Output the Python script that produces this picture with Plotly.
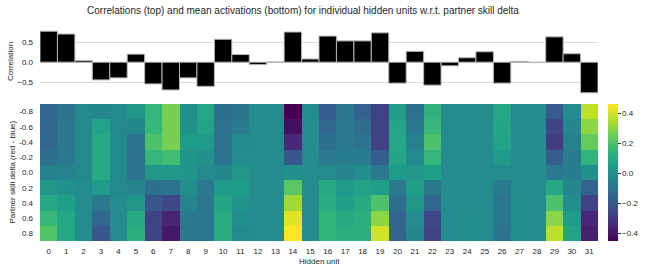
import numpy as np
import plotly.graph_objects as go

# ---------------- data ----------------
units = list(range(32))
unit_labels = [str(u) for u in units]

skill_deltas = [-0.8, -0.6, -0.4, -0.2, 0.0, 0.2, 0.4, 0.6, 0.8]
skill_labels = ["-0.8", "-0.6", "-0.4", "-0.2", "0.0", "0.2", "0.4", "0.6", "0.8"]

correlations = [0.77, 0.70, 0.04, -0.44, -0.39, 0.20, -0.54, -0.69, -0.39, -0.60,
                0.57, 0.19, -0.06, 0.005, 0.75, 0.08, 0.65, 0.53, 0.53, 0.73,
                -0.52, 0.27, -0.57, -0.09, 0.11, 0.26, -0.52, 0.02, -0.01, 0.63,
                0.21, -0.76]

# mean activation per hidden unit, one value per skill delta (-0.8 ... 0.8)
activations_by_unit = [
    [-0.15, -0.15, -0.15, -0.12, -0.05, 0.03, 0.09, 0.16, 0.21],   # 0
    [-0.10, -0.09, -0.09, -0.08, -0.04, 0.01, 0.06, 0.09, 0.09],   # 1
    [-0.02, -0.02, -0.02, -0.02, -0.02, -0.01, -0.01, -0.01, -0.01],  # 2
    [-0.03, 0.07, 0.10, 0.10, 0.10, 0.04, -0.08, -0.15, -0.20],    # 3
    [-0.02, -0.02, -0.02, -0.02, -0.02, -0.02, -0.01, -0.01, -0.01],  # 4
    [0.03, -0.03, -0.10, -0.11, -0.10, -0.04, 0.03, 0.10, 0.12],   # 5
    [0.15, 0.16, 0.20, 0.15, 0.03, -0.12, -0.20, -0.27, -0.27],    # 6
    [0.27, 0.27, 0.27, 0.18, 0.03, -0.10, -0.25, -0.36, -0.39],    # 7
    [0.00, 0.01, 0.05, 0.02, 0.02, 0.00, -0.04, -0.08, -0.09],     # 8
    [0.09, 0.07, 0.04, 0.01, -0.02, -0.08, -0.09, -0.09, -0.09],   # 9
    [-0.12, -0.11, -0.11, -0.10, -0.03, 0.05, 0.08, 0.11, 0.11],   # 10
    [-0.10, -0.07, -0.02, -0.01, 0.03, 0.05, 0.02, 0.00, -0.02],   # 11
    [-0.01, -0.01, -0.01, -0.01, -0.01, -0.01, -0.01, -0.01, -0.01],  # 12
    [-0.01, -0.01, -0.01, -0.01, -0.01, -0.01, -0.01, -0.01, -0.01],  # 13
    [-0.45, -0.41, -0.35, -0.20, 0.01, 0.22, 0.33, 0.42, 0.46],    # 14
    [-0.01, -0.01, -0.01, -0.01, -0.01, -0.01, -0.01, -0.01, -0.01],  # 15
    [-0.18, -0.15, -0.12, -0.08, -0.01, 0.10, 0.11, 0.14, 0.14],   # 16
    [-0.09, -0.08, -0.08, -0.06, -0.04, 0.04, 0.06, 0.10, 0.12],   # 17
    [-0.17, -0.13, -0.10, -0.07, 0.00, 0.07, 0.10, 0.12, 0.12],    # 18
    [-0.27, -0.27, -0.27, -0.18, -0.08, 0.06, 0.20, 0.30, 0.40],   # 19
    [0.06, 0.08, 0.09, 0.08, 0.05, -0.08, -0.12, -0.16, -0.16],    # 20
    [-0.12, -0.09, -0.05, -0.02, 0.03, 0.06, 0.03, -0.01, -0.03],  # 21
    [0.13, 0.16, 0.20, 0.15, 0.06, -0.09, -0.15, -0.25, -0.27],    # 22
    [-0.01, -0.01, -0.01, -0.01, -0.01, -0.01, -0.01, -0.01, -0.01],  # 23
    [-0.01, -0.01, -0.01, -0.01, -0.01, -0.01, -0.01, 0.00, 0.00],    # 24
    [-0.01, -0.01, -0.01, -0.01, -0.01, -0.01, -0.01, -0.01, -0.01],  # 25
    [0.09, 0.08, 0.07, 0.04, -0.01, -0.07, -0.09, -0.09, -0.10],   # 26
    [-0.01, -0.01, -0.01, -0.01, -0.01, -0.01, 0.00, 0.00, 0.00],     # 27
    [-0.01, -0.01, -0.01, -0.01, -0.01, -0.01, -0.01, -0.01, -0.01],  # 28
    [-0.19, -0.26, -0.29, -0.18, -0.08, 0.09, 0.20, 0.30, 0.37],   # 29
    [-0.01, -0.03, -0.05, -0.07, -0.06, -0.03, 0.00, 0.04, 0.07],  # 30
    [0.37, 0.30, 0.24, 0.14, 0.00, -0.16, -0.27, -0.35, -0.37],    # 31
]

corr_ticks = [-0.5, 0.0, 0.5]
corr_tick_labels = ["\u22120.5", "0.0", "0.5"]
cbar_ticks = [0.4, 0.2, 0.0, -0.2, -0.4]
cbar_tick_labels = ["0.4", "0.2", "0.0", "\u22120.2", "\u22120.4"]

title_text = "Correlations (top) and mean activations (bottom) for individual hidden units w.r.t. partner skill delta"

# ---------------- layout helpers ----------------
W, H = 646, 271
FONT = "Liberation Sans, Arial, sans-serif"
TXT = "#262626"


def fx(px):
    return px / W


def dom_y(top, bottom):
    return [1 - bottom / H, 1 - top / H]


z = np.array(activations_by_unit).T  # rows = skill deltas, cols = units

fig = go.Figure()

fig.add_trace(go.Bar(
    x=units, y=correlations, width=1,
    marker=dict(color="black", line=dict(color="#b5b5b5", width=1)),
    xaxis="x", yaxis="y", showlegend=False, hoverinfo="x+y",
))

fig.add_trace(go.Heatmap(
    x=units, y=skill_deltas, z=z,
    colorscale="Viridis", zmin=-0.45, zmax=0.46,
    xaxis="x2", yaxis="y2", xgap=0, ygap=0,
    colorbar=dict(
        x=fx(608), xanchor="left", xpad=0, ypad=0,
        y=1 - (104 + 241) / 2 / H, yanchor="middle",
        len=(241 - 104) / H, lenmode="fraction",
        thickness=10, thicknessmode="pixels",
        outlinewidth=0,
        tickvals=cbar_ticks, ticktext=cbar_tick_labels,
        ticks="outside", ticklen=3, tickwidth=1, tickcolor=TXT,
        tickfont=dict(family=FONT, size=8, color=TXT),
    ),
))

x_dom = [fx(40), fx(598)]

fig.update_layout(
    width=W, height=H,
    margin=dict(l=0, r=0, t=0, b=0),
    paper_bgcolor="white", plot_bgcolor="white",
    font=dict(family=FONT, size=8, color=TXT),
    title=dict(text=title_text, x=fx(303), xanchor="center", xref="paper",
               y=1 - 10 / H, yanchor="middle", yref="container",
               font=dict(family=FONT, size=10, color=TXT)),
    xaxis=dict(domain=x_dom, range=[-0.5, 31.5], showticklabels=False,
               showgrid=False, zeroline=False, showline=False, ticks=""),
    yaxis=dict(domain=dom_y(28, 96), range=[-0.84, 0.85],
               tickvals=corr_ticks, ticktext=corr_tick_labels,
               showgrid=True, gridcolor="#dcdcdc", gridwidth=1,
               zeroline=False, showline=False, ticks="",
               ticklabelstandoff=6,
               tickfont=dict(family=FONT, size=8, color=TXT)),
    xaxis2=dict(domain=x_dom, range=[-0.5, 31.5], anchor="y2",
                tickvals=units, ticktext=unit_labels,
                showgrid=False, zeroline=False, showline=False, ticks="",
                ticklabelstandoff=4,
                tickfont=dict(family=FONT, size=8, color=TXT)),
    yaxis2=dict(domain=dom_y(104, 241), range=[0.9, -0.9], anchor="x2",
                tickvals=skill_deltas, ticktext=skill_labels,
                showgrid=False, zeroline=False, showline=False, ticks="",
                ticklabelstandoff=6,
                tickfont=dict(family=FONT, size=8, color=TXT)),
    annotations=[
        dict(text="Correlation", x=fx(10), y=1 - 62 / H, xref="paper", yref="paper",
             textangle=-90, showarrow=False, xanchor="center", yanchor="middle",
             font=dict(family=FONT, size=8, color=TXT)),
        dict(text="Partner skill delta (red - blue)", x=fx(12), y=1 - 172.5 / H,
             xref="paper", yref="paper", textangle=-90, showarrow=False,
             xanchor="center", yanchor="middle",
             font=dict(family=FONT, size=8, color=TXT)),
        dict(text="Hidden unit", x=fx(319), y=1 - 261 / H, xref="paper", yref="paper",
             showarrow=False, xanchor="center", yanchor="middle",
             font=dict(family=FONT, size=8, color=TXT)),
    ],
)

fig.write_html("out.html")
